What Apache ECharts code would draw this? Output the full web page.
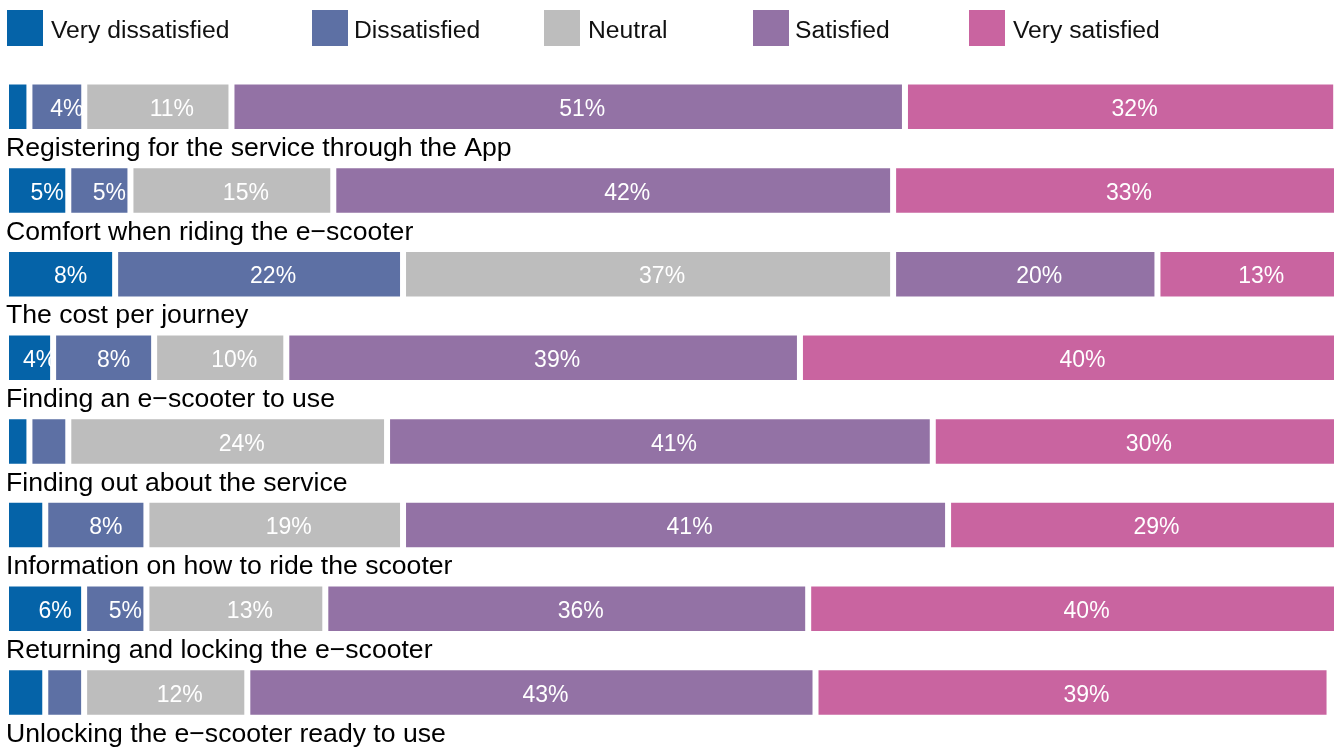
<!DOCTYPE html>
<html>
<head>
<meta charset="utf-8">
<script src="https://cdn.jsdelivr.net/npm/echarts@6/dist/echarts.min.js"></script>
<style>
html,body{margin:0;padding:0;background:#fff;}
#chart{width:1338px;height:749px;}
</style>
</head>
<body>
<div id="chart"></div>
<script>
const categories = [
  'Registering for the service through the App',
  'Comfort when riding the e\u2212scooter',
  'The cost per journey',
  'Finding an e\u2212scooter to use',
  'Finding out about the service',
  'Information on how to ride the scooter',
  'Returning and locking the e\u2212scooter',
  'Unlocking the e\u2212scooter ready to use'
];
const seriesNames = ['Very dissatisfied', 'Dissatisfied', 'Neutral', 'Satisfied', 'Very satisfied'];
const veryDissatisfied = [1.76, 4.68, 8.2, 3.54, 1.76, 2.95, 5.87, 2.95];
const dissatisfied     = [4.12, 4.67, 21.63, 7.59, 2.92, 7.6, 4.68, 2.92];
const neutral          = [11.06, 15.24, 36.82, 9.93, 23.95, 19.28, 13.44, 12.26];
const satisfied        = [50.6, 42.06, 19.86, 38.59, 41.0, 40.95, 36.28, 42.69];
const verySatisfied    = [32.4, 33.35, 13.49, 40.35, 30.37, 29.22, 39.73, 38.62];

const colors = ['#0563A8', '#5D70A4', '#BDBDBD', '#9372A5', '#C964A0'];
const values = [veryDissatisfied, dissatisfied, neutral, satisfied, verySatisfied];
const FONT = '"Liberation Sans", Arial, Helvetica, sans-serif';

function mkData(arr) {
  return arr.map(function (v) {
    const r = Math.round(v);
    return {
      value: v,
      label: { show: r >= 4, offset: [String(r).length === 1 ? 10 : 14, 3] }
    };
  });
}

const legendLeft = [5, 310, 542, 751, 967];
const legendPad = [2, 0, 2, 0, 2];

const chart = echarts.init(document.getElementById('chart'), null, { renderer: 'canvas' });
chart.setOption({
  animation: false,
  color: colors,
  legend: seriesNames.map(function (n, i) {
    return {
      data: [n],
      left: legendLeft[i],
      top: 8,
      icon: 'rect',
      itemWidth: 38,
      itemHeight: 38,
      padding: 0,
      selectedMode: false,
      formatter: function (name) { return '{t|' + name + '}'; },
      textStyle: {
        fontSize: 24.7, color: '#111', fontFamily: FONT,
        rich: { t: { fontSize: 24.7, color: '#111', fontFamily: FONT, lineHeight: 30, padding: [6, 0, 0, legendPad[i]] } }
      }
    };
  }),
  grid: { left: 6, right: 1, top: 65, bottom: 8.6, containLabel: false },
  xAxis: { type: 'value', min: 0, max: 100, show: false },
  yAxis: {
    type: 'category',
    data: categories,
    inverse: true,
    axisLine: { show: false },
    axisTick: { show: false },
    splitLine: { show: false },
    axisLabel: {
      inside: true,
      interval: 0,
      margin: 0,
      fontSize: 26.6,
      color: '#000',
      fontFamily: FONT,
      verticalAlign: 'top',
      lineHeight: 30,
      padding: [27, 0, 0, 0]
    }
  },
  series: seriesNames.map(function (n, i) {
    return {
      name: n,
      type: 'bar',
      stack: 'total',
      barWidth: 50.5,
      data: mkData(values[i]),
      itemStyle: { color: colors[i], borderColor: '#fff', borderWidth: 3 },
      emphasis: { disabled: true },
      label: {
        position: 'inside',
        color: '#fff',
        fontSize: 23,
        fontFamily: FONT,
        formatter: function (p) { return Math.round(p.value) + '%'; }
      }
    };
  })
});
</script>
</body>
</html>
